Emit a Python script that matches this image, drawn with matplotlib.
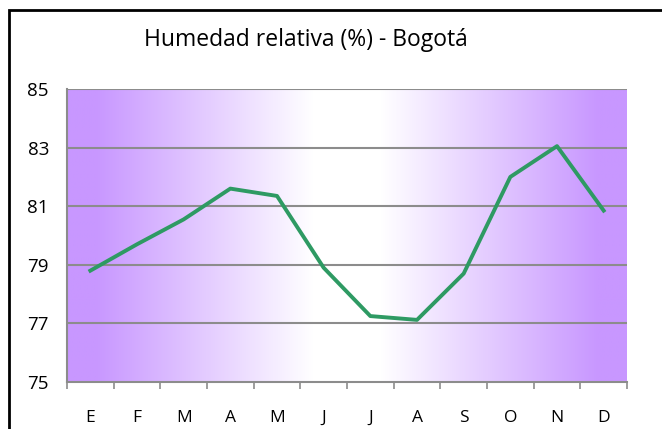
import numpy as np
import matplotlib.pyplot as plt
from matplotlib.patches import Rectangle
from matplotlib.colors import LinearSegmentedColormap

meses = ['E', 'F', 'M', 'A', 'M', 'J', 'J', 'A', 'S', 'O', 'N', 'D']
humedad = [78.8, 79.7, 80.55, 81.6, 81.35, 78.9, 77.25, 77.12, 78.7, 82.0, 83.05, 80.85]

plt.rcParams['font.family'] = ['Open Sans', 'DejaVu Sans']

fig = plt.figure(figsize=(6.62, 4.29), dpi=100)
ax = fig.add_axes([67 / 662, 1 - 382 / 429, 560 / 662, 293 / 429])

# marco negro del grafico (se sale por la derecha y abajo)
fig.patches.append(Rectangle((9 / 662, -0.1), 1.1, 1 - 10 / 429 + 0.1,
                             transform=fig.transFigure, fill=False,
                             edgecolor='black', linewidth=2, clip_on=False))

# fondo degradado morado - blanco - morado
morado = '#c897ff'
cmap = LinearSegmentedColormap.from_list('deg', [morado, '#ffffff'])
x = np.linspace(-1, 1, 400)
t = np.clip((np.abs(x) - 0.12) / 0.78, 0, 1)
grad = 1 - t
ax.imshow(grad[np.newaxis, :], aspect='auto', cmap=cmap, vmin=0, vmax=1,
          extent=[0, 12, 75, 85], zorder=0)

pos = np.arange(len(meses)) + 0.5
ax.plot(pos, humedad, color='#2e9a63', linewidth=2.8, zorder=3)

ax.set_xlim(0, 12)
ax.set_ylim(75, 85)
ax.set_yticks([75, 77, 79, 81, 83, 85])
for v in [77, 79, 81, 83, 85]:
    ax.axhline(v, color='#8c8c8c', linewidth=1.5, zorder=2)

ax.set_xticks(np.arange(0, 13))
ax.set_xticklabels([])
ax.set_xticks(pos, minor=True)
ax.set_xticklabels(meses, minor=True)
ax.tick_params(axis='x', which='major', length=5, width=1.2, color='#8c8c8c', direction='out')
ax.tick_params(axis='x', which='minor', length=0, pad=20, labelsize=12.5)
ax.tick_params(axis='y', length=0, pad=13, labelsize=13.5)

for s in ['top', 'right']:
    ax.spines[s].set_visible(False)
ax.spines['left'].set_color('#8c8c8c')
ax.spines['left'].set_linewidth(1.5)
ax.spines['bottom'].set_color('#8c8c8c')
ax.spines['bottom'].set_linewidth(1.5)

fig.text(306 / 662, 1 - 40 / 429, 'Humedad relativa (%) - Bogotá',
         ha='center', va='center', fontsize=16.5)

fig.savefig('out.png', dpi=100)
